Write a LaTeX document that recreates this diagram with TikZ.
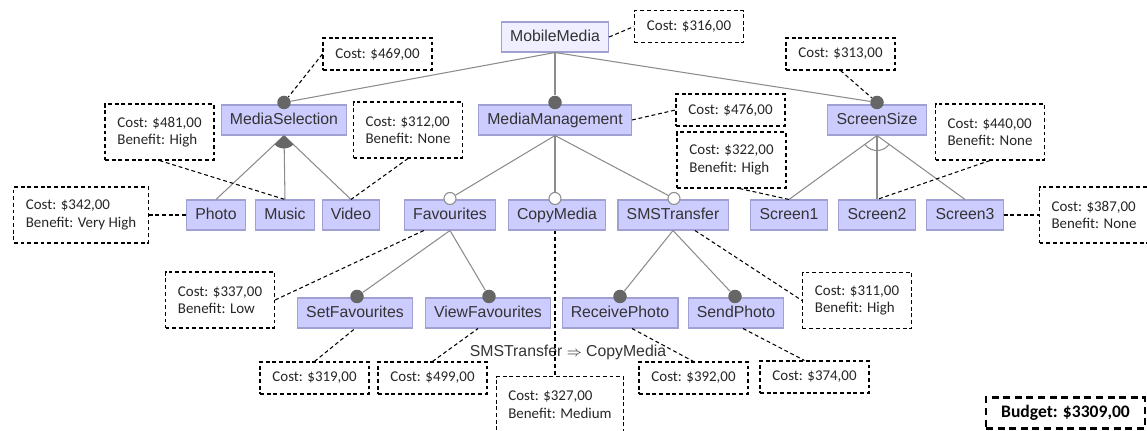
\documentclass[tikz,border=0pt]{standalone}
\usepackage{fontspec}
\setmainfont{Liberation Sans}
\newfontfamily\costfont{Carlito}
\usepackage{xcolor}
\usetikzlibrary{calc,positioning}

\definecolor{featfill}{HTML}{CCCCFF}
\definecolor{featline}{HTML}{A0A0D2}
\definecolor{rootfill}{HTML}{EFEFFF}
\definecolor{linkgray}{HTML}{8C8C8C}
\definecolor{dotgray}{HTML}{666666}
\definecolor{txtgray}{HTML}{333333}

\begin{document}
\begin{tikzpicture}[
    x=0.02cm, y=-0.02cm,
    feat/.style={rectangle, draw=featline, fill=featfill, line width=0.6pt, minimum height=0.6cm, inner xsep=0.175cm, text height=6.6pt, text depth=1.9pt, font=\fontsize{9}{10}\selectfont, text=txtgray},
    rootfeat/.style={feat, fill=rootfill},
    mand/.style={circle, fill=dotgray, inner sep=0pt, minimum size=0.27cm},
    opt/.style={circle, draw=linkgray, fill=white, line width=0.6pt, inner sep=0pt, minimum size=0.24cm},
    link/.style={draw=linkgray, line width=0.6pt},
    cost/.style={rectangle, draw=black, dash pattern=on 2.2pt off 1.6pt, line width=0.6pt, fill=white, minimum width=2.18cm, minimum height=0.64cm, inner xsep=0.24cm, align=left, font=\costfont\fontsize{8.5}{10}\selectfont, text=black!85},
    cost2/.style={cost, minimum height=1.12cm},
    note/.style={draw=black, dash pattern=on 2.2pt off 1.6pt, line width=0.6pt},
    budget/.style={rectangle, draw=black, dash pattern=on 4pt off 2.6pt, line width=1.2pt, minimum width=3.18cm, minimum height=0.62cm, font=\costfont\bfseries\fontsize{10}{12}\selectfont}
]
\useasboundingbox (0,0) rectangle (1147,430);
\clip (0,0) rectangle (1147,430);

% Root
\node[rootfeat] (mm) at (555,37) {MobileMedia};

% First level
\node[feat] (ms) at (284,120) {MediaSelection};
\node[feat] (mmg) at (555,120) {MediaManagement};
\node[feat] (ss) at (877,120) {ScreenSize};

% Second level
\node[feat] (photo) at (216,215) {Photo};
\node[feat] (music) at (285,215) {Music};
\node[feat] (video) at (351,215) {Video};
\node[feat] (fav) at (450,215) {Favourites};
\node[feat] (cm) at (557,215) {CopyMedia};
\node[feat] (sms) at (673,215) {SMSTransfer};
\node[feat] (scr1) at (789,215) {Screen1};
\node[feat] (scr2) at (877,215) {Screen2};
\node[feat] (scr3) at (965,215) {Screen3};

% Third level
\node[feat] (sf) at (355,313) {SetFavourites};
\node[feat] (vf) at (488,313) {ViewFavourites};
\node[feat] (rp) at (620,313) {ReceivePhoto};
\node[feat] (sp) at (736,313) {SendPhoto};

% Mandatory / optional markers
\node[mand] (ms-c) at ($(ms.north)+(0,-2)$) {};
\node[mand] (mmg-c) at ($(mmg.north)+(0,-2)$) {};
\node[mand] (ss-c) at ($(ss.north)+(0,-2)$) {};
\node[opt] (fav-c) at ($(fav.north)+(0,-1)$) {};
\node[opt] (cm-c) at ($(cm.north)+(-2,-1)$) {};
\node[opt] (sms-c) at ($(sms.north)+(1,-1)$) {};
\node[mand] (sf-c) at ($(sf.north)+(2,-1)$) {};
\node[mand] (vf-c) at ($(vf.north)+(1,-1)$) {};
\node[mand] (rp-c) at ($(rp.north)+(0,-1)$) {};
\node[mand] (sp-c) at ($(sp.north)+(-1,-1)$) {};

% Tree links
\draw[link] (mm.south) -- (ms-c);
\draw[link] (mm.south) -- (mmg-c);
\draw[link] (mm.south) -- (ss-c);
\draw[link] (ms.south) -- (photo.north);
\draw[link] (ms.south) -- (music.north);
\draw[link] (ms.south) -- (video.north);
\draw[link] (mmg.south) -- (fav-c);
\draw[link] (mmg.south) -- (cm-c);
\draw[link] (mmg.south) -- (sms-c);
\draw[link] (ss.south) -- (scr1.north);
\draw[link] (ss.south) -- (scr2.north);
\draw[link] (ss.south) -- (scr3.north);
\draw[link] (fav.south) -- (sf-c);
\draw[link] (fav.south) -- (vf-c);
\draw[link] (sms.south) -- (rp-c);
\draw[link] (sms.south) -- (sp-c);

% Or group and alternative group
\fill[dotgray] (ms.south) -- ++(224:0.26cm) arc[start angle=224, end angle=316, radius=0.26cm] -- cycle;
\draw[link] ($(ss.south)+(216:0.3cm)$) arc[start angle=216, end angle=324, radius=0.3cm];

% Cross-tree constraint
\node[font=\fontsize{9}{10}\selectfont, text=txtgray] (cons) at (568,352) {SMSTransfer {\fontsize{8}{8}\selectfont$\Rightarrow$} CopyMedia};

% Costs
\node[cost] (c-mm) at (689,26.5) {Cost: \$316,00};
\node[cost] (c-ms) at (377.5,54) {Cost: \$469,00};
\node[cost] (c-ss) at (840.5,54) {Cost: \$313,00};
\node[cost] (c-mmg) at (730.5,110) {Cost: \$476,00};
\node[cost2] (c-music) at (159.5,132) {Cost: \$481,00\\Benefit: High};
\node[cost2] (c-video) at (408,130) {Cost: \$312,00\\Benefit: None};
\node[cost2] (c-scr1) at (731.5,160) {Cost: \$322,00\\Benefit: High};
\node[cost2] (c-scr2) at (990,132) {Cost: \$440,00\\Benefit: None};
\node[cost2] (c-photo) at (81,215) {Cost: \$342,00\\Benefit: Very High};
\node[cost2, anchor=west] (c-scr3) at (1039,215) {Cost: \$387,00\\Benefit: None};
\node[cost2] (c-fav) at (220,300) {Cost: \$337,00\\Benefit: Low};
\node[cost2] (c-sms) at (857,300.5) {Cost: \$311,00\\Benefit: High};
\node[cost] (c-sf) at (314.5,378) {Cost: \$319,00};
\node[cost] (c-vf) at (432.5,378) {Cost: \$499,00};
\node[cost2, anchor=north] (c-cm) at (560,376) {Cost: \$327,00\\Benefit: Medium};
\node[cost] (c-rp) at (693.5,378) {Cost: \$392,00};
\node[cost] (c-sp) at (814.5,377) {Cost: \$374,00};

% Cost links
\coordinate (cm-foot) at ($(cm.south)+(-2,0)$);
\draw[note] (mm.east) -- (c-mm.west);
\draw[note] (c-ms.west) -- (ms-c);
\draw[note] (c-ss.south) -- (ss-c);
\draw[note] (mmg.east) -- (c-mmg.west);
\draw[note] (c-music.south) -- (music.north);
\draw[note] (c-video.south) -- (video.north);
\draw[note] ($(c-scr1.south)+(8,0)$) -- (scr1.north);
\draw[note] (c-scr2.south) -- (scr2.north);
\draw[note] (c-photo.east) -- (photo.west);
\draw[note] (scr3.east) -- (c-scr3.west);
\draw[note] ($(fav.south west)+(20,0)$) -- (c-fav.east);
\draw[note] ($(sms.south)+(22,0)$) -- (c-sms.west);
\draw[note] (c-sf.north) -- (sf.south);
\draw[note] (c-vf.north) -- ($(vf.south)+(-10,0)$);
\draw[note] (cm-foot) -- (cm-foot |- c-cm.north);
\draw[note] ($(rp.south)+(12,0)$) -- (c-rp.north);
\draw[note] ($(sp.south)+(7,0)$) -- ($(c-sp.north)+(-10,0)$);

% Budget
\node[budget] (budget) at (1065.5,413) {Budget: \$3309,00};

\end{tikzpicture}
\end{document}
